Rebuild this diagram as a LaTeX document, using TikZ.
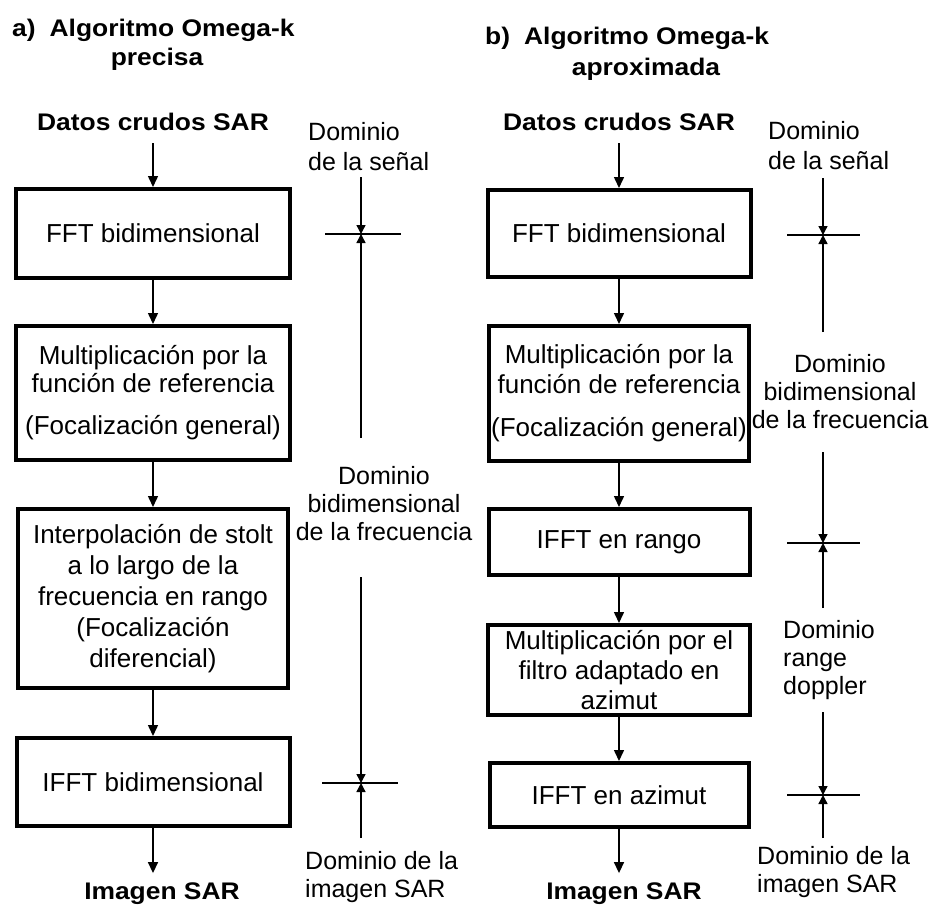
\documentclass[tikz,border=0pt]{standalone}
\usepackage{fontspec}
\setmainfont{Liberation Sans}
\newfontfamily\bwide[FakeStretch=1.1]{Liberation Sans}
\usetikzlibrary{arrows.meta}
\begin{document}
\begin{tikzpicture}[x=1pt,y=-1pt,
  box/.style={draw, line width=4pt, inner sep=0pt, align=center, font=\fontsize{26}{30}\selectfont},
  conn/.style={line width=1.5pt, -{Triangle[length=11pt,width=10pt]}},
  axarr/.style={line width=1.4pt, -{Triangle[length=9pt,width=9pt]}},
  tickline/.style={line width=2pt},
  blab/.style={font=\bwide\bfseries\fontsize{24}{29}\selectfont, inner sep=0pt},
  dlab/.style={font=\fontsize{25}{28}\selectfont, inner sep=0pt},
]
\useasboundingbox (0,0) rectangle (930,905);

% ---------- titles ----------
\node[blab, anchor=base west] (tA) at (12,36) {a)\hspace{14pt}Algoritmo Omega-k};
\node[blab, anchor=base] (tA2) at (157,65) {precisa};
\node[blab, anchor=base west] (tB) at (485,44) {b)\hspace{14pt}Algoritmo Omega-k};
\node[blab, anchor=base] (tB2) at (646,75) {aproximada};

% ---------- column a ----------
\node[blab, outer ysep=13pt] (inA) at (153,121.5) {Datos crudos SAR};
\node[box, minimum width=274pt, minimum height=89pt] (a1) at (153,233.5) {FFT bidimensional};
\node[box, minimum width=274pt, minimum height=134pt, font=\fontsize{26}{28}\selectfont] (a2) at (153,393)
  {Multiplicación por la\\función de referencia\\[14pt](Focalización general)};
\node[box, minimum width=270pt, minimum height=179pt, font=\fontsize{26}{31}\selectfont] (a3) at (153,598.5)
  {Interpolación de stolt\\a lo largo de la\\frecuencia en rango\\(Focalización\\diferencial)};
\node[box, minimum width=273pt, minimum height=88pt] (a4) at (153,782) {IFFT bidimensional};
\node[blab, outer ysep=10pt] (outA) at (162,894) {Imagen SAR};

\draw[conn] (inA.south) -- (a1.north);
\draw[conn] (a1.south) -- (a2.north);
\draw[conn] (a2.south) -- (a3.north);
\draw[conn] (a3.south) -- (a4.north);
\draw[conn] (a4.south) -- (a4.south |- outA.north);

% ---------- column b ----------
\node[blab, outer ysep=13pt] (inB) at (619,121.5) {Datos crudos SAR};
\node[box, minimum width=263pt, minimum height=87pt] (b1) at (619,233.5) {FFT bidimensional};
\node[box, minimum width=260pt, minimum height=135pt, font=\fontsize{26}{30}\selectfont] (b2) at (619,393.5)
  {Multiplicación por la\\función de referencia\\[13pt](Focalización general)};
\node[box, minimum width=261pt, minimum height=66pt] (b3) at (619,542) {IFFT en rango};
\node[box, minimum width=262pt, minimum height=90pt, font=\fontsize{26}{30}\selectfont] (b4) at (619,670)
  {Multiplicación por el\\filtro adaptado en\\azimut};
\node[box, minimum width=259pt, minimum height=64pt] (b5) at (619,795) {IFFT en azimut};
\node[blab, outer ysep=10pt] (outB) at (624,894) {Imagen SAR};

\draw[conn] (inB.south) -- (b1.north);
\draw[conn] (b1.south) -- (b2.north);
\draw[conn] (b2.south) -- (b3.north);
\draw[conn] (b3.south) -- (b4.north);
\draw[conn] (b4.south) -- (b5.north);
\draw[conn] (b5.south) -- (b5.south |- outB.north);

% ---------- domain axis a ----------
\node[dlab, align=left, anchor=west, font=\fontsize{25}{30}\selectfont] (dA1) at (308,147) {Dominio\\de la señal};
\node[dlab, align=center] (dA2) at (384,504) {Dominio\\bidimensional\\de la frecuencia};
\node[dlab, align=left, anchor=west] (dA3) at (305,877) {Dominio de la\\imagen SAR};

\coordinate (ta1) at (361,234);
\coordinate (ta2) at (361,783);
\coordinate (sa1) at (361,177);
\coordinate (ea1) at (361,438);
\coordinate (sa2) at (361,577);
\coordinate (ea2) at (361,838);
\draw[axarr] (sa1) -- (ta1);
\draw[axarr] (ea1) -- (ta1);
\draw[axarr] (sa2) -- (ta2);
\draw[axarr] (ea2) -- (ta2);
\draw[tickline] ([xshift=-36pt]ta1) -- ([xshift=40pt]ta1);
\draw[tickline] ([xshift=-39pt]ta2) -- ([xshift=37pt]ta2);

% ---------- domain axis b ----------
\node[dlab, align=left, anchor=west, font=\fontsize{25}{30}\selectfont] (dB1) at (768,146) {Dominio\\de la señal};
\node[dlab, align=center] (dB2) at (840,392) {Dominio\\bidimensional\\de la frecuencia};
\node[dlab, align=left, anchor=west] (dB3) at (783,660) {Dominio\\range\\doppler};
\node[dlab, align=left, anchor=west] (dB4) at (757,872.5) {Dominio de la\\imagen SAR};

\coordinate (tb1) at (823,235);
\coordinate (tb2) at (823,543);
\coordinate (tb3) at (823,795);
\coordinate (sb1) at (823,178);
\coordinate (eb1) at (823,332);
\coordinate (sb2) at (823,452);
\coordinate (eb2) at (823,608);
\coordinate (sb3) at (823,712);
\coordinate (eb3) at (823,838);
\draw[axarr] (sb1) -- (tb1);
\draw[axarr] (eb1) -- (tb1);
\draw[axarr] (sb2) -- (tb2);
\draw[axarr] (eb2) -- (tb2);
\draw[axarr] (sb3) -- (tb3);
\draw[axarr] (eb3) -- (tb3);
\draw[tickline] ([xshift=-36pt]tb1) -- ([xshift=37pt]tb1);
\draw[tickline] ([xshift=-36pt]tb2) -- ([xshift=37pt]tb2);
\draw[tickline] ([xshift=-36pt]tb3) -- ([xshift=37pt]tb3);
\end{tikzpicture}
\end{document}
